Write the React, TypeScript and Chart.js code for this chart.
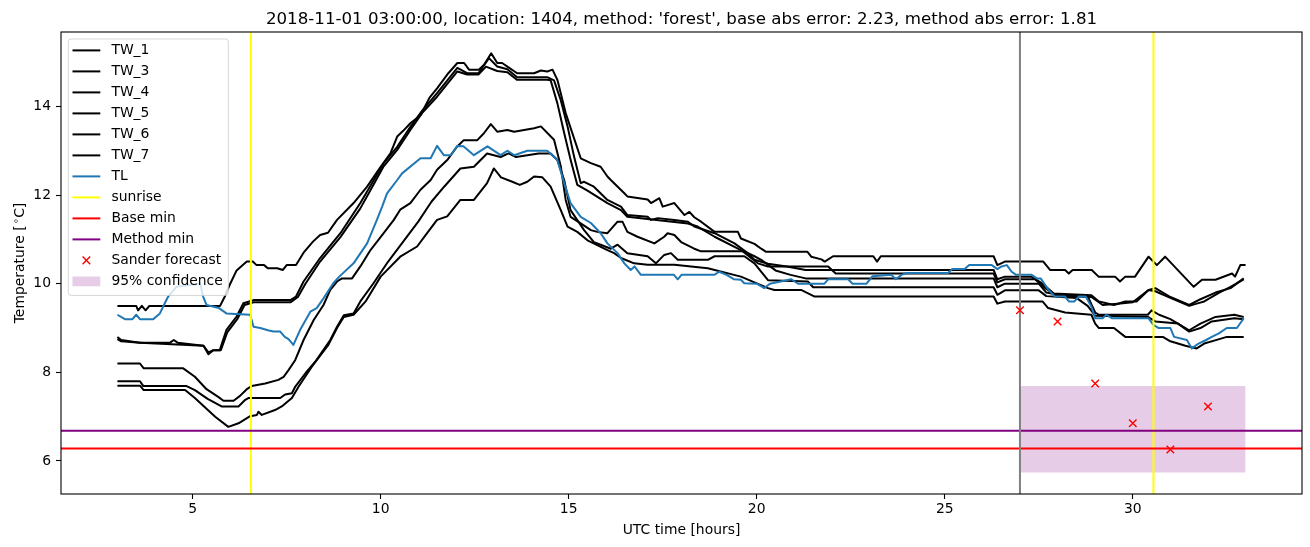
import React, { useEffect, useRef } from "react";
import { Chart, registerables } from "chart.js";

Chart.register(...registerables);

type Pt = [number, number];

const TITLE_TEXT =
  "2018-11-01 03:00:00, location: 1404, method: 'forest', base abs error: 2.23, method abs error: 1.81";
const X_AXIS_LABEL = "UTC time [hours]";
const Y_AXIS_LABEL_PARTS = ["Temperature [", "\u2218", "C]"];

const X_RANGE = [1.5, 34.5];
const Y_RANGE = [5.255, 15.68];
const X_TICKS = [5, 10, 15, 20, 25, 30];
const Y_TICKS = [6, 8, 10, 12, 14];

const TW_NAMES = ["TW_1", "TW_3", "TW_4", "TW_5", "TW_6", "TW_7"];

const TW_1: Pt[] = [
  [3.0, 9.5], [3.5, 9.5], [3.55, 9.4], [3.65, 9.5], [3.75, 9.4], [3.85, 9.5], [5.73, 9.5], [5.85, 9.7],
  [6.0, 10.0], [6.17, 10.3], [6.44, 10.5], [6.6, 10.5], [6.7, 10.42], [6.9, 10.42], [7.0, 10.35], [7.25, 10.35],
  [7.4, 10.31], [7.5, 10.42], [7.75, 10.42], [7.95, 10.7], [8.2, 10.95], [8.39, 11.1], [8.6, 11.15], [8.84, 11.44],
  [9.28, 11.82], [9.64, 12.19], [10.0, 12.64], [10.26, 12.94], [10.44, 13.32], [10.6, 13.45], [10.79, 13.62],
  [11.06, 13.8], [11.3, 14.2], [11.5, 14.41], [11.8, 14.75], [12.04, 14.98], [12.22, 14.98], [12.35, 14.83],
  [12.61, 14.83], [12.75, 14.94], [12.94, 15.2], [13.1, 14.98], [13.23, 14.98], [13.37, 14.9], [13.63, 14.75],
  [14.08, 14.75], [14.26, 14.81], [14.43, 14.79], [14.57, 14.83], [14.7, 14.6], [14.92, 13.85], [15.32, 12.83],
  [15.59, 12.72], [15.85, 12.64], [16.03, 12.42], [16.12, 12.34], [16.48, 12.04], [16.56, 11.97], [17.1, 11.9],
  [17.19, 11.82], [17.41, 11.93], [17.5, 11.74], [17.81, 11.82], [18.08, 11.55], [18.21, 11.62], [18.34, 11.5],
  [18.52, 11.4], [18.88, 11.17], [19.5, 11.17], [19.58, 11.02], [19.94, 10.9], [20.12, 10.79], [20.25, 10.72],
  [21.35, 10.72], [21.45, 10.61], [21.72, 10.55], [21.81, 10.5], [22.03, 10.62], [23.1, 10.62], [23.2, 10.5],
  [23.3, 10.62], [26.3, 10.62], [26.4, 10.42], [26.6, 10.5], [27.62, 10.5], [27.8, 10.31], [28.2, 10.31],
  [28.3, 10.23], [28.4, 10.31], [28.91, 10.31], [29.09, 10.16], [29.53, 10.16], [29.66, 10.05], [29.8, 10.16],
  [30.06, 10.16], [30.42, 10.61], [30.64, 10.42], [30.86, 10.61], [31.62, 9.93], [31.84, 10.09], [32.2, 10.09],
  [32.64, 10.23], [32.72, 10.16], [32.86, 10.42], [33.0, 10.42],
];

const TW_3: Pt[] = [
  [3.0, 8.8], [3.1, 8.73], [3.6, 8.67], [4.4, 8.67], [4.5, 8.73], [4.6, 8.67], [5.29, 8.6], [5.42, 8.41],
  [5.55, 8.5], [5.72, 8.5], [5.9, 8.96], [6.17, 9.26], [6.35, 9.56], [6.62, 9.63], [7.6, 9.63], [7.75, 9.71],
  [7.95, 10.05], [8.39, 10.58], [8.93, 11.14], [9.46, 11.82], [9.82, 12.34], [10.08, 12.72], [10.44, 13.09],
  [10.79, 13.54], [11.1, 13.9], [11.5, 14.3], [12.04, 14.87], [12.3, 14.75], [12.6, 14.75], [12.88, 15.09],
  [13.1, 14.9], [13.37, 14.84], [13.63, 14.66], [14.43, 14.66], [14.61, 14.59], [14.79, 14.14], [14.97, 13.55],
  [15.14, 12.88], [15.32, 12.27], [15.41, 12.3], [15.67, 12.19], [16.03, 11.89], [16.39, 11.74], [16.56, 11.55],
  [17.1, 11.51], [17.19, 11.44], [17.37, 11.48], [17.81, 11.44], [18.17, 11.4], [18.34, 11.29], [18.88, 11.14],
  [19.41, 10.91], [19.76, 10.69], [19.94, 10.54], [20.3, 10.45], [20.8, 10.39], [21.3, 10.31], [26.3, 10.31],
  [26.4, 10.1], [26.6, 10.16], [27.3, 10.16], [27.6, 10.0], [27.9, 9.78], [28.9, 9.74], [29.1, 9.6], [29.5, 9.52],
  [29.8, 9.6], [30.1, 9.6], [30.42, 9.86], [30.6, 9.9], [31.0, 9.7], [31.5, 9.52], [31.8, 9.65], [32.2, 9.8],
  [32.6, 9.9], [32.95, 10.12],
];

const TW_4: Pt[] = [
  [3.0, 8.75], [3.1, 8.7], [3.6, 8.67], [5.29, 8.6], [5.42, 8.45], [5.55, 8.5], [5.75, 8.5], [5.92, 8.9],
  [6.2, 9.22], [6.38, 9.52], [6.62, 9.58], [7.6, 9.58], [7.8, 9.7], [8.0, 10.0], [8.39, 10.5], [8.93, 11.05],
  [9.46, 11.7], [9.82, 12.25], [10.08, 12.65], [10.44, 13.02], [10.79, 13.47], [11.1, 13.85], [11.5, 14.22],
  [12.04, 14.79], [12.3, 14.72], [12.6, 14.72], [12.8, 14.9], [13.1, 14.8], [13.37, 14.77], [13.63, 14.6],
  [14.43, 14.6], [14.52, 14.59], [14.7, 14.07], [14.88, 13.4], [15.05, 12.8], [15.23, 12.23], [15.5, 12.1],
  [16.03, 11.82], [16.39, 11.66], [16.56, 11.51], [18.17, 11.36], [18.43, 11.29], [18.88, 11.06], [19.58, 10.76],
  [20.03, 10.46], [20.3, 10.39], [21.9, 10.39], [22.1, 10.23], [26.3, 10.23], [26.4, 10.03], [26.6, 10.1],
  [27.4, 10.1], [27.7, 9.88], [27.95, 9.74], [28.9, 9.7], [29.2, 9.52], [29.6, 9.55], [30.0, 9.58], [30.42, 9.86],
  [30.6, 9.83], [31.0, 9.68], [31.5, 9.5], [31.7, 9.55], [31.9, 9.6], [32.3, 9.8], [32.6, 9.93], [32.95, 10.1],
];

const TW_5: Pt[] = [
  [3.0, 8.2], [3.6, 8.2], [3.7, 8.09], [4.75, 8.09], [5.06, 7.9], [5.37, 7.62], [5.69, 7.44], [5.82, 7.36],
  [6.09, 7.36], [6.26, 7.47], [6.44, 7.62], [6.57, 7.69], [6.93, 7.75], [7.28, 7.83], [7.42, 7.9], [7.55, 8.05],
  [7.73, 8.28], [7.95, 8.73], [8.22, 9.18], [8.48, 9.52], [8.66, 9.86], [8.84, 10.05], [8.97, 10.12], [9.24, 10.12],
  [9.46, 10.39], [9.73, 10.76], [10.08, 11.14], [10.35, 11.44], [10.52, 11.67], [10.79, 11.82], [11.06, 12.12],
  [11.33, 12.34], [11.5, 12.57], [11.77, 12.79], [12.03, 13.09], [12.21, 13.24], [12.57, 13.24], [12.74, 13.39],
  [12.93, 13.6], [13.1, 13.43], [13.37, 13.47], [13.55, 13.43], [14.08, 13.51], [14.26, 13.55], [14.61, 13.25],
  [14.79, 12.65], [14.92, 11.89], [15.05, 11.51], [15.32, 11.36], [15.59, 11.21], [15.76, 11.17], [16.03, 11.14],
  [16.3, 11.4], [16.43, 11.4], [16.56, 11.17], [16.83, 11.06], [17.28, 10.91], [17.54, 11.06], [17.63, 11.14],
  [17.81, 11.1], [17.99, 10.94], [18.34, 10.79], [18.52, 10.73], [19.67, 10.73], [19.94, 10.62], [20.12, 10.54],
  [20.5, 10.3], [20.9, 10.2], [21.3, 10.12], [26.3, 10.12], [26.4, 9.92], [26.6, 10.0], [27.5, 10.0], [27.7, 9.8],
  [28.2, 9.72], [28.8, 9.72], [29.0, 9.35], [29.1, 9.3], [30.4, 9.3], [30.5, 9.4], [30.7, 9.3], [31.0, 9.2],
  [31.5, 8.95], [31.8, 9.1], [32.2, 9.25], [32.7, 9.3], [32.95, 9.25],
];

const TW_6: Pt[] = [
  [3.0, 7.8], [3.6, 7.8], [3.69, 7.69], [4.84, 7.69], [5.06, 7.6], [5.4, 7.4], [5.77, 7.23], [6.22, 7.23],
  [6.4, 7.38], [6.48, 7.42], [7.33, 7.42], [7.46, 7.5], [7.64, 7.53], [7.73, 7.68], [8.0, 7.98], [8.26, 8.24],
  [8.48, 8.51], [8.66, 8.73], [8.84, 9.03], [9.02, 9.29], [9.28, 9.33], [9.46, 9.6], [9.8, 10.0], [10.2, 10.5],
  [10.6, 10.95], [11.0, 11.4], [11.35, 11.85], [11.7, 12.2], [12.12, 12.6], [12.48, 12.64], [12.83, 12.94],
  [13.19, 12.86], [13.4, 12.94], [13.6, 12.86], [14.2, 12.94], [14.52, 12.94], [14.7, 12.79], [14.88, 12.34],
  [15.05, 11.66], [15.41, 11.21], [15.67, 10.94], [15.85, 10.88], [16.12, 10.79], [16.3, 10.88], [16.56, 10.69],
  [17.1, 10.62], [17.32, 10.46], [17.54, 10.65], [17.72, 10.69], [17.9, 10.54], [18.7, 10.54], [18.88, 10.62],
  [19.67, 10.62], [19.94, 10.46], [20.3, 10.08], [21.36, 10.05], [21.5, 9.92], [26.3, 9.92], [26.4, 9.75],
  [26.6, 9.85], [27.5, 9.85], [27.7, 9.72], [28.5, 9.68], [28.8, 9.5], [29.0, 9.28], [30.4, 9.25], [30.6, 9.15],
  [31.2, 9.1], [31.5, 8.92], [31.8, 9.0], [32.1, 9.15], [32.7, 9.22], [32.95, 9.2],
];

const TW_7: Pt[] = [
  [3.0, 7.7], [3.6, 7.7], [3.7, 7.6], [4.8, 7.6], [5.06, 7.42], [5.6, 7.0], [5.95, 6.77], [6.22, 6.85],
  [6.53, 7.01], [6.71, 7.04], [6.75, 7.11], [6.84, 7.04], [7.19, 7.15], [7.37, 7.23], [7.64, 7.42], [7.82, 7.68],
  [8.17, 8.13], [8.61, 8.62], [8.84, 9.0], [9.02, 9.25], [9.28, 9.3], [9.6, 9.6], [10.0, 10.16], [10.52, 10.61],
  [10.97, 10.84], [11.2, 11.1], [11.5, 11.44], [11.77, 11.52], [12.12, 11.89], [12.48, 11.89], [12.83, 12.27],
  [13.01, 12.6], [13.2, 12.4], [13.5, 12.3], [13.7, 12.23], [13.9, 12.3], [14.08, 12.42], [14.3, 12.4],
  [14.52, 12.19], [14.79, 11.66], [14.97, 11.29], [15.23, 11.17], [15.5, 10.98], [16.03, 10.76], [16.21, 10.69],
  [16.39, 10.58], [16.74, 10.46], [17.1, 10.43], [17.81, 10.43], [18.7, 10.35], [19.58, 10.16], [20.3, 9.9],
  [20.47, 9.86], [21.18, 9.86], [21.54, 9.71], [26.3, 9.71], [26.4, 9.55], [26.6, 9.6], [27.6, 9.6], [27.75, 9.45],
  [28.2, 9.35], [28.9, 9.3], [29.0, 9.1], [29.1, 9.0], [29.5, 9.0], [29.8, 8.8], [30.8, 8.8], [31.0, 8.7],
  [31.4, 8.6], [31.7, 8.54], [31.9, 8.65], [32.3, 8.75], [32.5, 8.8], [32.95, 8.8],
];

const TL: Pt[] = [
  [3.0, 9.3], [3.2, 9.2], [3.4, 9.2], [3.5, 9.3], [3.6, 9.2], [3.95, 9.2], [4.13, 9.33], [4.26, 9.56],
  [4.35, 9.71], [4.57, 9.93], [5.2, 10.0], [5.28, 9.71], [5.37, 9.52], [5.7, 9.45], [5.9, 9.33], [6.53, 9.3],
  [6.62, 9.03], [6.8, 9.0], [7.0, 8.95], [7.15, 8.92], [7.33, 8.92], [7.45, 8.8], [7.55, 8.75], [7.68, 8.62],
  [7.86, 8.96], [8.13, 9.37], [8.3, 9.45], [8.48, 9.67], [8.74, 10.01], [8.9, 10.16], [9.28, 10.46],
  [9.64, 10.91], [9.9, 11.44], [10.04, 11.74], [10.17, 12.04], [10.44, 12.34], [10.57, 12.49], [11.06, 12.83],
  [11.33, 12.83], [11.5, 13.11], [11.68, 12.9], [11.86, 12.9], [12.04, 13.11], [12.2, 13.1], [12.48, 12.9],
  [12.84, 13.1], [13.19, 12.9], [13.37, 13.0], [13.55, 12.9], [13.9, 13.0], [14.43, 13.0], [14.7, 12.79],
  [14.88, 12.27], [15.05, 11.82], [15.32, 11.51], [15.59, 11.37], [15.85, 11.14], [16.03, 10.91], [16.3, 10.69],
  [16.48, 10.46], [16.65, 10.31], [16.75, 10.39], [16.92, 10.2], [17.8, 10.2], [17.9, 10.1], [18.0, 10.2],
  [18.87, 10.2], [19.0, 10.27], [19.2, 10.2], [19.4, 10.1], [19.58, 10.09], [19.67, 10.01], [20.0, 10.0],
  [20.1, 9.95], [20.2, 9.9], [20.35, 10.0], [20.92, 10.1], [21.1, 10.0], [21.8, 10.0], [21.9, 10.1],
  [22.43, 10.1], [22.55, 10.0], [22.92, 10.0], [23.08, 10.17], [23.58, 10.2], [23.7, 10.1], [23.85, 10.2],
  [23.98, 10.24], [25.09, 10.24], [25.2, 10.33], [25.53, 10.33], [25.65, 10.42], [26.25, 10.42], [26.4, 10.33],
  [26.51, 10.39], [26.65, 10.42], [26.78, 10.27], [26.9, 10.2], [27.31, 10.2], [27.45, 10.12], [27.55, 10.12],
  [27.76, 9.86], [27.93, 9.71], [28.2, 9.71], [28.3, 9.6], [28.45, 9.6], [28.56, 9.71], [28.75, 9.71],
  [28.9, 9.48], [29.0, 9.22], [29.2, 9.22], [29.3, 9.3], [29.45, 9.22], [30.42, 9.22], [30.55, 9.07],
  [30.69, 9.0], [31.0, 9.0], [31.1, 8.8], [31.44, 8.73], [31.57, 8.54], [31.75, 8.65], [31.95, 8.73],
  [32.1, 8.8], [32.29, 8.88], [32.5, 9.0], [32.77, 9.0], [32.95, 9.22],
];

const SUNRISE_HOURS = [6.55, 30.55];
const FORECAST_START_HOUR = 27;
const BASE_MIN = 6.28;
const METHOD_MIN = 6.68;
const SANDER_HOURS = [27, 28, 29, 30, 31, 32];
const SANDER_TEMPS = [9.4, 9.15, 7.75, 6.85, 6.26, 7.23];
const CONF_HOURS = [27, 33];
const CONF_LOWER = [5.74, 5.74];
const CONF_UPPER = [7.69, 7.69];

const TL_COLOR = "#1f77b4";
const CONF_COLOR = "rgba(128,0,128,0.2)";
const FONT = "'DejaVu Sans'";

const LEGEND_ITEMS: { label: string; kind: "line" | "x" | "patch"; color: string }[] = [
  ...TW_NAMES.map((n) => ({ label: n, kind: "line" as const, color: "#000000" })),
  { label: "TL", kind: "line", color: TL_COLOR },
  { label: "sunrise", kind: "line", color: "#ffff00" },
  { label: "Base min", kind: "line", color: "#ff0000" },
  { label: "Method min", kind: "line", color: "#800080" },
  { label: "Sander forecast", kind: "x", color: "#ff0000" },
  { label: "95% confidence", kind: "patch", color: CONF_COLOR },
];

const toXY = (pts: Pt[]) => pts.map(([x, y]) => ({ x, y }));

const decorPlugin = {
  id: "decor",
  beforeDraw(chart: any) {
    const c = chart.ctx;
    c.save();
    c.fillStyle = "#ffffff";
    c.fillRect(0, 0, chart.width, chart.height);
    c.restore();
  },
  afterDraw(chart: any) {
    const ctx = chart.ctx as CanvasRenderingContext2D;
    const a = chart.chartArea;
    ctx.save();
    // frame
    ctx.strokeStyle = "#000";
    ctx.lineWidth = 1.1;
    ctx.strokeRect(a.left, a.top, a.right - a.left, a.bottom - a.top);

    // title
    ctx.fillStyle = "#000";
    ctx.font = `16.67px ${FONT}`;
    ctx.textAlign = "center";
    ctx.textBaseline = "alphabetic";
    ctx.fillText(TITLE_TEXT, (a.left + a.right) / 2, a.top - 8.3);

    // x label
    ctx.font = `13.9px ${FONT}`;
    ctx.textBaseline = "middle";
    ctx.fillText(X_AXIS_LABEL, (a.left + a.right) / 2, 530);

    // y label with superscript
    ctx.save();
    ctx.translate(19, (a.top + a.bottom) / 2);
    ctx.rotate(-Math.PI / 2);
    ctx.textAlign = "left";
    ctx.textBaseline = "alphabetic";
    const f1 = `13.9px ${FONT}`;
    const f2 = `9.7px ${FONT}`;
    ctx.font = f1;
    const w1 = ctx.measureText(Y_AXIS_LABEL_PARTS[0]).width;
    const w3 = ctx.measureText(Y_AXIS_LABEL_PARTS[2]).width;
    ctx.font = f2;
    const w2 = ctx.measureText(Y_AXIS_LABEL_PARTS[1]).width;
    const gap = 1.5;
    let px = -(w1 + gap + w2 + w3) / 2;
    const base = 5;
    ctx.font = f1;
    ctx.fillText(Y_AXIS_LABEL_PARTS[0], px, base);
    px += w1 + gap;
    ctx.font = f2;
    ctx.fillText(Y_AXIS_LABEL_PARTS[1], px, base - 5.5);
    px += w2;
    ctx.font = f1;
    ctx.fillText(Y_AXIS_LABEL_PARTS[2], px, base);
    ctx.restore();

    // legend
    ctx.font = `13.9px ${FONT}`;
    let maxW = 0;
    for (const it of LEGEND_ITEMS) maxW = Math.max(maxW, ctx.measureText(it.label).width);
    const bx = a.left + 7.3;
    const by = a.top + 7;
    const handleX0 = bx + 4.2;
    const handleX1 = handleX0 + 27.8;
    const textX = handleX1 + 11.1;
    const bw = textX + maxW + 5.6 - bx;
    const rowH = 21.0;
    const firstY = by + 11.4;
    const bh = firstY + rowH * (LEGEND_ITEMS.length - 1) + 14 - by;
    ctx.beginPath();
    const r = 2.8;
    ctx.moveTo(bx + r, by);
    ctx.lineTo(bx + bw - r, by);
    ctx.arcTo(bx + bw, by, bx + bw, by + r, r);
    ctx.lineTo(bx + bw, by + bh - r);
    ctx.arcTo(bx + bw, by + bh, bx + bw - r, by + bh, r);
    ctx.lineTo(bx + r, by + bh);
    ctx.arcTo(bx, by + bh, bx, by + bh - r, r);
    ctx.lineTo(bx, by + r);
    ctx.arcTo(bx, by, bx + r, by, r);
    ctx.closePath();
    ctx.fillStyle = "rgba(255,255,255,0.8)";
    ctx.fill();
    ctx.strokeStyle = "rgba(204,204,204,0.8)";
    ctx.lineWidth = 1;
    ctx.stroke();

    LEGEND_ITEMS.forEach((it, i) => {
      const y = firstY + i * rowH;
      if (it.kind === "line") {
        ctx.strokeStyle = it.color;
        ctx.lineWidth = 2;
        ctx.beginPath();
        ctx.moveTo(handleX0, y);
        ctx.lineTo(handleX1, y);
        ctx.stroke();
      } else if (it.kind === "x") {
        const cx = (handleX0 + handleX1) / 2;
        const h = 3.8;
        ctx.strokeStyle = it.color;
        ctx.lineWidth = 1.4;
        ctx.beginPath();
        ctx.moveTo(cx - h, y - h);
        ctx.lineTo(cx + h, y + h);
        ctx.moveTo(cx - h, y + h);
        ctx.lineTo(cx + h, y - h);
        ctx.stroke();
      } else {
        ctx.fillStyle = it.color;
        ctx.fillRect(handleX0, y - 4.85, handleX1 - handleX0, 9.7);
      }
      ctx.fillStyle = "#000";
      ctx.textAlign = "left";
      ctx.textBaseline = "middle";
      ctx.fillText(it.label, textX, y);
    });
    ctx.restore();
  },
};

export default function App() {
  const ref = useRef<HTMLCanvasElement | null>(null);

  useEffect(() => {
    if (!ref.current) return;
    const lineDs = (label: string, data: { x: number; y: number }[], color: string, order: number, width = 2) => ({
      label,
      data,
      borderColor: color,
      backgroundColor: color,
      borderWidth: width,
      pointRadius: 0,
      tension: 0,
      fill: false,
      order,
      borderJoinStyle: "round" as const,
    });

    const twSeries = [TW_1, TW_3, TW_4, TW_5, TW_6, TW_7];
    const datasets: any[] = [];
    // confidence band (lowest layer)
    datasets.push({
      label: "conf_low",
      data: CONF_HOURS.map((x, i) => ({ x, y: CONF_LOWER[i] })),
      borderWidth: 0,
      borderColor: "rgba(0,0,0,0)",
      pointRadius: 0,
      fill: false,
      order: 200,
    });
    datasets.push({
      label: "95% confidence",
      data: CONF_HOURS.map((x, i) => ({ x, y: CONF_UPPER[i] })),
      borderWidth: 0,
      borderColor: "rgba(0,0,0,0)",
      backgroundColor: CONF_COLOR,
      pointRadius: 0,
      fill: "-1",
      order: 199,
    });
    twSeries.forEach((s, i) => datasets.push(lineDs(TW_NAMES[i], toXY(s), "#000000", 100 - i)));
    datasets.push(lineDs("TL", toXY(TL), TL_COLOR, 90));
    SUNRISE_HOURS.forEach((h, i) =>
      datasets.push(lineDs("sunrise" + i, [{ x: h, y: Y_RANGE[0] }, { x: h, y: Y_RANGE[1] }], "#ffff00", 80 - i))
    );
    datasets.push(lineDs("Base min", [{ x: X_RANGE[0], y: BASE_MIN }, { x: X_RANGE[1], y: BASE_MIN }], "#ff0000", 70));
    datasets.push(
      lineDs("Method min", [{ x: X_RANGE[0], y: METHOD_MIN }, { x: X_RANGE[1], y: METHOD_MIN }], "#800080", 69)
    );
    datasets.push(
      lineDs(
        "forecast start",
        [{ x: FORECAST_START_HOUR, y: Y_RANGE[0] }, { x: FORECAST_START_HOUR, y: Y_RANGE[1] }],
        "#808080",
        60
      )
    );
    datasets.push({
      label: "Sander forecast",
      data: SANDER_HOURS.map((x, i) => ({ x, y: SANDER_TEMPS[i] })),
      showLine: false,
      pointStyle: "crossRot",
      pointRadius: 5.3,
      pointBorderWidth: 1.4,
      borderColor: "#ff0000",
      backgroundColor: "#ff0000",
      order: 50,
    });

    const tickFont = { family: FONT, size: 13.9 };
    const chart = new Chart(ref.current, {
      type: "line",
      data: { datasets },
      plugins: [decorPlugin],
      options: {
        animation: false,
        responsive: false,
        devicePixelRatio: 1,
        events: [],
        layout: { padding: { top: 32, right: 8, left: 0, bottom: 0 } },
        plugins: {
          legend: { display: false },
          tooltip: { enabled: false },
          title: { display: false },
        },
        scales: {
          x: {
            type: "linear",
            min: X_RANGE[0],
            max: X_RANGE[1],
            afterBuildTicks: (axis: any) => {
              axis.ticks = X_TICKS.map((v) => ({ value: v }));
            },
            afterFit: (axis: any) => {
              axis.height = 53;
            },
            ticks: {
              color: "#000",
              font: tickFont,
              padding: 2,
              maxRotation: 0,
              autoSkip: false,
              callback: (v: any) => String(v),
            },
            grid: {
              display: true,
              drawOnChartArea: false,
              drawTicks: true,
              tickLength: 5,
              tickColor: "#000",
              tickWidth: 1.1,
            },
            border: { display: false },
          },
          y: {
            type: "linear",
            min: Y_RANGE[0],
            max: Y_RANGE[1],
            afterBuildTicks: (axis: any) => {
              axis.ticks = Y_TICKS.map((v) => ({ value: v }));
            },
            afterFit: (axis: any) => {
              axis.width = 61;
            },
            ticks: {
              color: "#000",
              font: tickFont,
              padding: 5,
              autoSkip: false,
              callback: (v: any) => String(v),
            },
            grid: {
              display: true,
              drawOnChartArea: false,
              drawTicks: true,
              tickLength: 5,
              tickColor: "#000",
              tickWidth: 1.1,
            },
            border: { display: false },
          },
        },
      } as any,
    });
    return () => chart.destroy();
  }, []);

  return (
    <div style={{ position: "absolute", left: 0, top: 0, width: 1310, height: 547, background: "#fff" }}>
      <canvas ref={ref} width={1310} height={547} style={{ width: 1310, height: 547, display: "block" }} />
    </div>
  );
}
